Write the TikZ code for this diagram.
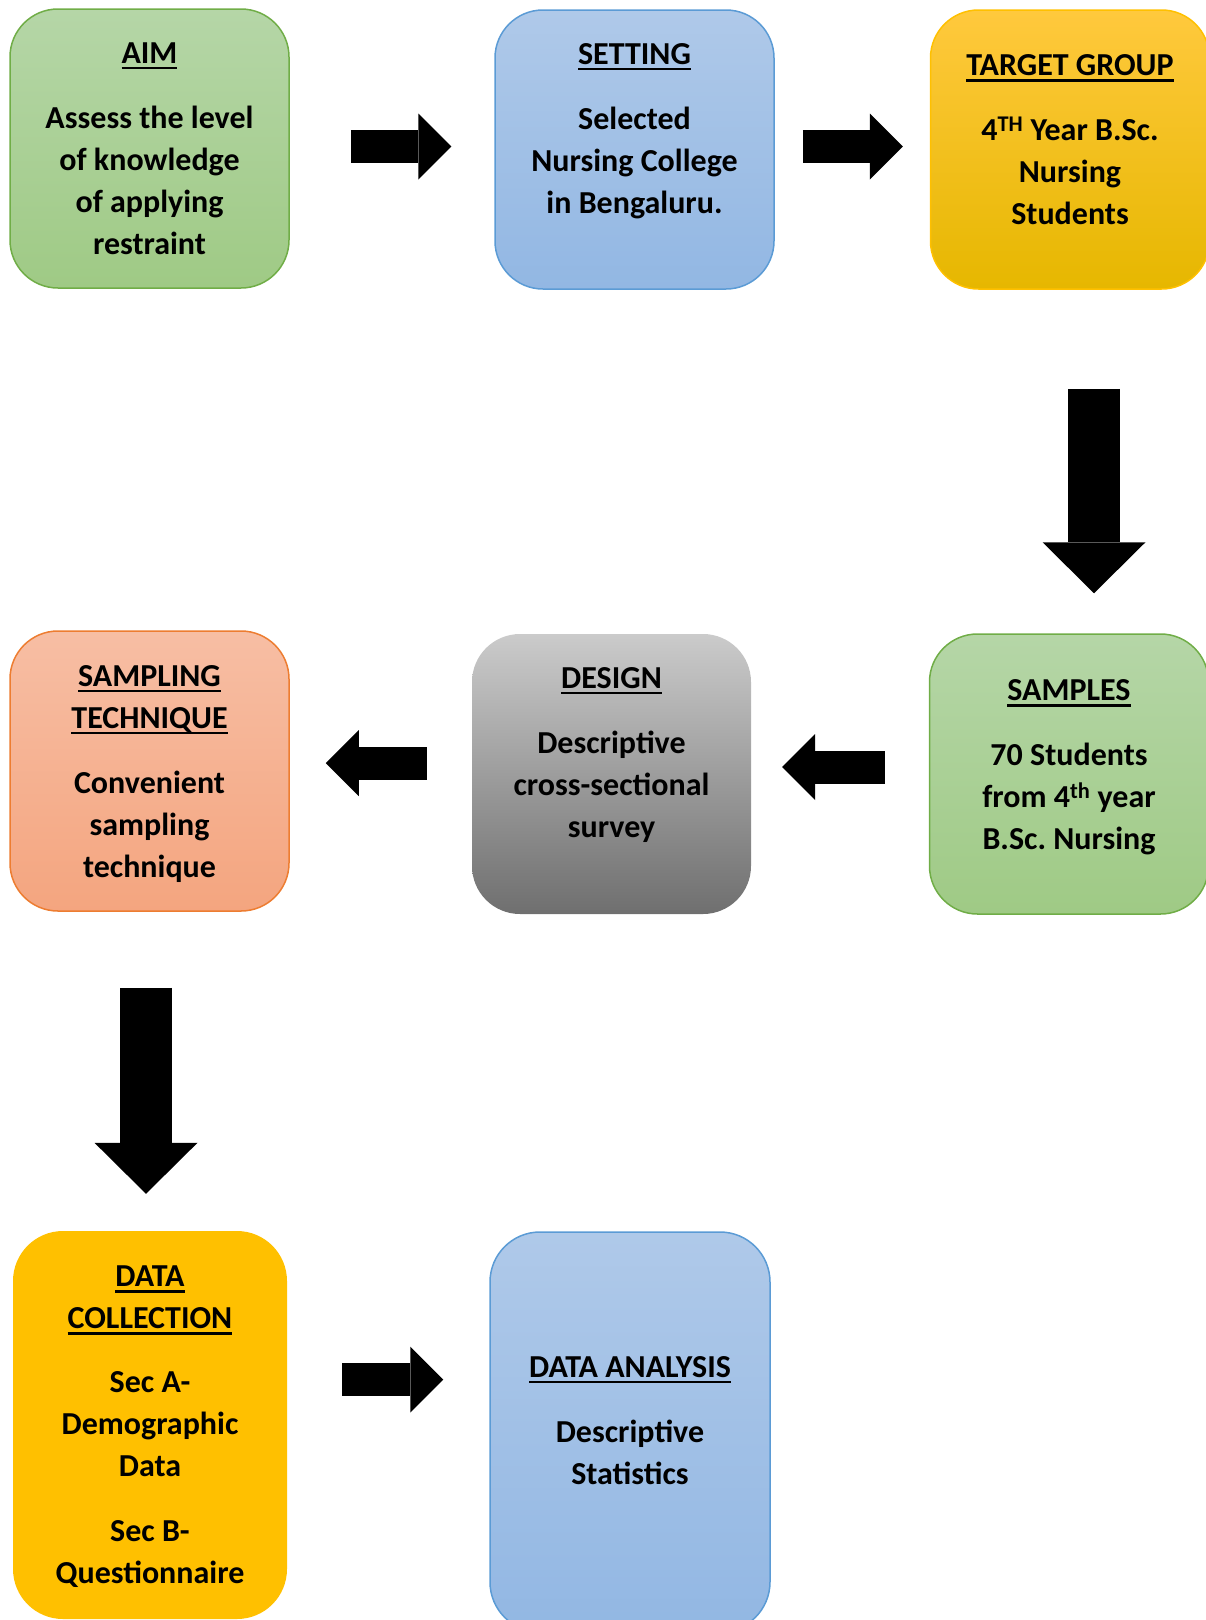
\documentclass[tikz,border=0pt]{standalone}
\usepackage{fontspec}
\setmainfont{Carlito}
\usetikzlibrary{arrows.meta,shapes}
\newcommand{\hdrline}[1]{\setbox0\hbox{#1}\leavevmode\rlap{\rule[-6pt]{\wd0}{2.5pt}}\box0}
\definecolor{greentop}{HTML}{B5D6A7}
\definecolor{greenbot}{HTML}{9FCA85}
\definecolor{greenline}{HTML}{70AD47}
\definecolor{bluetop}{HTML}{AFC9E9}
\definecolor{bluebot}{HTML}{92B7E3}
\definecolor{blueline}{HTML}{5B9BD5}
\definecolor{goldtop}{HTML}{FFC93D}
\definecolor{goldmid}{HTML}{FFC000}
\definecolor{goldbot}{HTML}{E6B700}
\definecolor{salmontop}{HTML}{F7BEA4}
\definecolor{salmonbot}{HTML}{F4A57F}
\definecolor{salmonline}{HTML}{ED7D31}
\definecolor{greytop}{HTML}{CBCBCB}
\definecolor{greybot}{HTML}{6F6F6F}

\begin{document}
\begin{tikzpicture}[x=1pt,y=-1pt]
  \tikzstyle{green_box}=[rectangle,rounded corners=48pt,
                                    line width=1.5pt,
                                    minimum width=279pt,minimum height=279pt,
                                    draw=greenline,
                                    top color=greentop,bottom color=greenbot]
  \tikzstyle{blue_box}=[rectangle,rounded corners=48pt,
                                    line width=1.5pt,
                                    minimum width=279pt,minimum height=279pt,
                                    draw=blueline,
                                    top color=bluetop,bottom color=bluebot]
  \tikzstyle{gold_box}=[rectangle,rounded corners=48pt,
                                    line width=1.5pt,
                                    minimum width=279pt,minimum height=279pt,
                                    draw=goldmid,
                                    top color=goldtop,middle color=goldmid,bottom color=goldbot]
  \tikzstyle{salmon_box}=[rectangle,rounded corners=48pt,
                                    line width=1.5pt,
                                    minimum width=279pt,minimum height=280pt,
                                    draw=salmonline,
                                    top color=salmontop,bottom color=salmonbot]
  \tikzstyle{grey_box}=[rectangle,rounded corners=48pt,
                                    minimum width=279pt,minimum height=280pt,
                                    top color=greytop,bottom color=greybot]
  \tikzstyle{yellow_box}=[rectangle,rounded corners=50pt,
                                    minimum width=274pt,minimum height=388pt,
                                    fill=goldmid]
  \tikzstyle{box_text}=[align=center,inner sep=0pt,
                                    font=\fontsize{32}{42}\selectfont\bfseries]
  \tikzstyle{fat_arrow}=[line width=33pt,-{Triangle[length=33pt,width=66pt,line width=0pt]}]
  \tikzstyle{fat_arrow_down}=[line width=52pt,-{Triangle[length=51pt,width=103pt,line width=0pt]}]
  \useasboundingbox (0,0) rectangle (1206,1620);
  %first row
  \node[green_box] (AIM) at (149.5,148.5) {};
  \node[blue_box] (SETTING) at (634.5,149.5) {};
  \node[gold_box] (TARGET) at (1070,149.5) {};
  %second row
  \node[salmon_box] (SAMPLING) at (149.5,771) {};
  \node[grey_box] (DESIGN) at (611.5,774) {};
  \node[green_box, minimum height=280pt] (SAMPLES) at (1069,774) {};
  %third row
  \node[yellow_box] (COLLECTION) at (150,1425) {};
  \node[blue_box, minimum width=280pt, minimum height=400pt, rounded corners=50pt] (ANALYSIS) at (630,1432) {};

  %texts
  \node[box_text] (AIM_t) at ([yshift=0pt]AIM.center)
    {\hdrline{AIM}\\[23pt]Assess the level\\of knowledge\\of applying\\restraint};
  \node[box_text] (SETTING_t) at ([yshift=18.5pt]SETTING.center)
    {\hdrline{SETTING}\\[23pt]Selected\\Nursing College\\in Bengaluru.};
  \node[box_text] (TARGET_t) at ([yshift=9.5pt]TARGET.center)
    {\hdrline{TARGET GROUP}\\[23pt]4\textsuperscript{TH} Year B.Sc.\\Nursing\\Students};
  \node[box_text] (SAMPLING_t) at ([yshift=-3pt]SAMPLING.center)
    {\hdrline{SAMPLING}\\\hdrline{TECHNIQUE}\\[23pt]Convenient\\sampling\\technique};
  \node[box_text] (DESIGN_t) at ([yshift=19pt]DESIGN.center)
    {\hdrline{DESIGN}\\[23pt]Descriptive\\cross-sectional\\survey};
  \node[box_text] (SAMPLES_t) at ([yshift=6.5pt]SAMPLES.center)
    {\hdrline{SAMPLES}\\[23pt]70 Students\\from 4\textsuperscript{th} year\\B.Sc.\ Nursing};
  \node[box_text] (COLLECTION_t) at ([yshift=-2pt]COLLECTION.center)
    {\hdrline{DATA}\\\hdrline{COLLECTION}\\[22pt]Sec A-\\Demographic\\Data\\[23pt]Sec B-\\Questionnaire};
  \node[box_text] (ANALYSIS_t) at ([yshift=11.5pt]ANALYSIS.center)
    {\hdrline{DATA ANALYSIS}\\[23pt]Descriptive\\Statistics};

  %arrows
  \draw[fat_arrow] ([xshift=61pt,yshift=2pt]AIM.east) -- ([xshift=-43pt,yshift=3pt]SETTING.west);
  \draw[fat_arrow] ([xshift=28pt,yshift=3pt]SETTING.east) -- ([xshift=-27pt,yshift=3pt]TARGET.west);
  \draw[fat_arrow_down] ([xshift=24pt,yshift=-99pt]TARGET.south) -- ([xshift=25pt,yshift=40pt]SAMPLES.north);
  \draw[fat_arrow] ([xshift=-44pt,yshift=7pt]SAMPLES.west) -- ([xshift=31pt,yshift=7pt]DESIGN.east);
  \draw[fat_arrow] ([xshift=-45pt,yshift=11pt]DESIGN.west) -- ([xshift=36pt,yshift=8pt]SAMPLING.east);
  \draw[fat_arrow_down] ([xshift=-3.5pt,yshift=-76pt]SAMPLING.south) -- ([xshift=-4pt,yshift=37pt]COLLECTION.north);
  \draw[fat_arrow] ([xshift=55pt,yshift=45.5pt]COLLECTION.east) -- ([xshift=-46pt,yshift=52.5pt]ANALYSIS.west);
\end{tikzpicture}
\end{document}
